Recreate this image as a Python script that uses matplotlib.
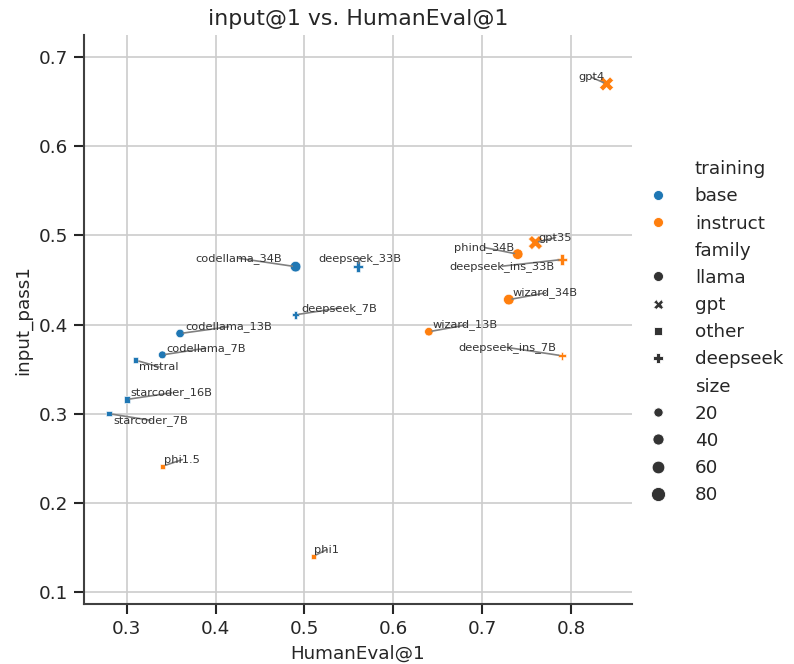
import matplotlib
matplotlib.use("Agg")
import matplotlib.pyplot as plt
from matplotlib.lines import Line2D
import seaborn as sns
import numpy as np
import pandas as pd

# =============================
#  Data
# =============================
models = ["codellama_34B", "codellama_13B", "codellama_7B", "gpt4", "gpt35",
          "phind_34B", "wizard_34B", "wizard_13B", "starcoder_16B", "starcoder_7B",
          "mistral", "phi1.5", "phi1", "deepseek_33B", "deepseek_7B",
          "deepseek_ins_33B", "deepseek_ins_7B"]
humaneval = [0.49, 0.36, 0.34, 0.84, 0.76,
             0.74, 0.73, 0.64, 0.30, 0.28,
             0.31, 0.34, 0.51, 0.56, 0.49,
             0.79, 0.79]
input_pass1 = [0.465, 0.390, 0.366, 0.670, 0.492,
               0.479, 0.428, 0.392, 0.316, 0.300,
               0.360, 0.241, 0.140, 0.465, 0.411,
               0.473, 0.365]
training = ["base", "base", "base", "instruct", "instruct",
            "instruct", "instruct", "instruct", "base", "base",
            "base", "instruct", "instruct", "base", "base",
            "instruct", "instruct"]
family = ["llama", "llama", "llama", "gpt", "gpt",
          "llama", "llama", "llama", "other", "other",
          "other", "other", "other", "deepseek", "deepseek",
          "deepseek", "deepseek"]
size = [34, 13, 7, 80, 80,
        34, 34, 13, 15.5, 7,
        7, 1.3, 1.3, 33, 6.7,
        33, 6.7]

training_levels = ["base", "instruct"]
family_levels = ["llama", "gpt", "other", "deepseek"]
size_levels = [20, 40, 60, 80]

# label offsets from each point, in points (layout only)
label_offset = {
    "gpt4": (-9, 4), "gpt35": (12, 3), "phind_34B": (-20, 4),
    "deepseek_ins_33B": (-36, -4), "wizard_34B": (22, 4), "wizard_13B": (22, 4),
    "deepseek_ins_7B": (-33, 5), "codellama_34B": (-34, 5), "deepseek_33B": (1, 5),
    "deepseek_7B": (26, 4), "codellama_13B": (29, 4), "codellama_7B": (26, 4),
    "mistral": (14, -4), "starcoder_16B": (27, 4), "starcoder_7B": (25, -4),
    "phi1.5": (12, 4), "phi1": (8, 4),
}

df = pd.DataFrame({"model": models, "HumanEval@1": humaneval, "input_pass1": input_pass1,
                   "training": training, "family": family, "size": size})

sns.set_theme(context="notebook", style="ticks",
              rc={"axes.grid": True, "axes.edgecolor": ".25"})
palette = {"base": "#1f77b4", "instruct": "#ff7f0e"}
markers = {"llama": "o", "gpt": "X", "other": (4, 0, 45), "deepseek": "P"}
area_range = (18, 72)

fig = plt.figure(figsize=(794 / 120, 664 / 120), dpi=120)
ax = fig.add_axes([0.106, 0.090, 0.690, 0.857])

sns.scatterplot(data=df, x="HumanEval@1", y="input_pass1", hue="training", style="family",
                size="size", hue_order=training_levels, style_order=family_levels,
                palette=palette, markers=markers, sizes=area_range, legend=False, ax=ax)

for m, x, y in zip(models, humaneval, input_pass1):
    dx, dy = label_offset[m]
    ax.annotate(m, (x, y), xytext=(dx, dy), textcoords="offset points",
                ha="center", va="center", fontsize=6.8, color="#333333",
                arrowprops=dict(arrowstyle="-", color="gray", lw=1,
                                patchA=None, shrinkA=0, shrinkB=2))

ax.set_xlim(0.252, 0.8687)
ax.set_ylim(0.0862, 0.7247)
ax.set_xticks([0.3, 0.4, 0.5, 0.6, 0.7, 0.8])
ax.set_yticks([0.1, 0.2, 0.3, 0.4, 0.5, 0.6, 0.7])
ax.set_title("input@1 vs. HumanEval@1", fontsize=13.2)
ax.set_xlabel("HumanEval@1", fontsize=11)
ax.set_ylabel("input_pass1", fontsize=11)
sns.despine(ax=ax)

# --- legend: training, family, size ---
smin, smax = min(size), max(size)
def area(v):
    return area_range[0] + (v - smin) / (smax - smin) * (area_range[1] - area_range[0])

blank = Line2D([], [], linestyle="none", marker="")
handles, labels = [blank], ["training"]
for t in training_levels:
    handles.append(Line2D([], [], linestyle="none", marker="o", ms=6,
                          color=palette[t], markeredgecolor="white", markeredgewidth=0.5))
    labels.append(t)
handles.append(blank); labels.append("family")
for f in family_levels:
    handles.append(Line2D([], [], linestyle="none", marker=markers[f], ms=6,
                          color=".2", markeredgecolor="white", markeredgewidth=0.5))
    labels.append(f)
handles.append(blank); labels.append("size")
for s in size_levels:
    handles.append(Line2D([], [], linestyle="none", marker="o", ms=np.sqrt(area(s)),
                          color=".2", markeredgecolor="white", markeredgewidth=0.5))
    labels.append(str(s))

ax.legend(handles, labels, loc="center left", bbox_to_anchor=(0.984, 0.478),
          frameon=False, fontsize=11, handletextpad=1.0)

fig.savefig("out.png", dpi=120)
